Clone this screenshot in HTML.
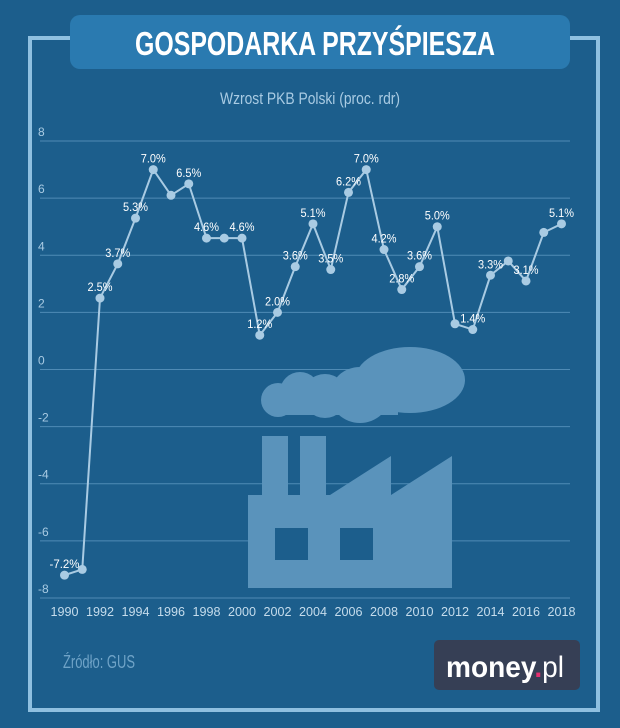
<!DOCTYPE html>
<html><head><meta charset="utf-8"><style>
body{margin:0;background:#1c5e8c;}
#wrap{position:relative;width:620px;height:728px;overflow:hidden;background:#1c5e8c;font-family:"Liberation Sans",sans-serif;}
svg text{font-family:"Liberation Sans",sans-serif;}
</style></head><body>
<div id="wrap">
<svg id="chart" width="620" height="728">
  <rect x="30" y="38" width="568" height="672" fill="none" stroke="#8fc0e0" stroke-width="4"/>
  <rect x="70" y="15" width="500" height="54" rx="10" fill="#2a7ab0"/>
  <text x="135" y="55" textLength="360" lengthAdjust="spacingAndGlyphs" font-size="33" font-weight="bold" fill="#fff">GOSPODARKA PRZYŚPIESZA</text>
  <text x="220" y="104" textLength="180" lengthAdjust="spacingAndGlyphs" font-size="17" fill="#a9cbe3">Wzrost PKB Polski (proc. rdr)</text>
  <g id="grid"></g>
  <g fill="#5a93bb">
    <polygon points="248,588 248,495 262,495 262,436 288,436 288,495 300,495 300,436 326,436 326,495 330,495 391,456 391,495 452,456 452,588"/>
    <rect x="275" y="528" width="33" height="32" fill="#1c5e8c"/>
    <rect x="340" y="528" width="33" height="32" fill="#1c5e8c"/>
    <circle cx="278" cy="400" r="17"/><circle cx="300" cy="392" r="20"/><circle cx="325" cy="396" r="22"/>
    <ellipse cx="360" cy="395" rx="30" ry="28"/><ellipse cx="410" cy="380" rx="55" ry="33"/>
    <rect x="278" y="385" width="120" height="30"/>
  </g>
  <g id="series"></g>
  <text x="63" y="668" textLength="72" lengthAdjust="spacingAndGlyphs" font-size="18" fill="#6fa3c7">Źródło: GUS</text>
  <g>
    <rect x="434" y="640" width="146" height="50" rx="5" fill="#363f55"/>
    <text x="446" y="677" textLength="118" lengthAdjust="spacingAndGlyphs" font-size="30" font-weight="bold" fill="#fff">money<tspan fill="#e4306f">.</tspan><tspan font-weight="normal">pl</tspan></text>
  </g>
</svg>
</div>
<script>
const years=[1990,1991,1992,1993,1994,1995,1996,1997,1998,1999,2000,2001,2002,2003,2004,2005,2006,2007,2008,2009,2010,2011,2012,2013,2014,2015,2016,2017,2018];
const growth=[-7.2,-7.0,2.5,3.7,5.3,7.0,6.1,6.5,4.6,4.6,4.6,1.2,2.0,3.6,5.1,3.5,6.2,7.0,4.2,2.8,3.6,5.0,1.6,1.4,3.3,3.8,3.1,4.8,5.1];
const labeledYears=[1990,1992,1993,1994,1995,1997,1998,2000,2001,2002,2003,2004,2005,2006,2007,2008,2009,2010,2011,2013,2014,2016,2018];
const yTicks=[8,6,4,2,0,-2,-4,-6,-8];
const xTicks=[1990,1992,1994,1996,1998,2000,2002,2004,2006,2008,2010,2012,2014,2016,2018];
const NS="http://www.w3.org/2000/svg";
function xs(y){return 64.5+(y-1990)*17.75;}
function ys(v){return 369.5-v*28.56;}
function mk(tag,attrs,parent){const e=document.createElementNS(NS,tag);for(const k in attrs)e.setAttribute(k,attrs[k]);parent.appendChild(e);return e;}
const grid=document.getElementById('grid');
yTicks.forEach(t=>{
  const l=mk('line',{x1:40,x2:570,y1:ys(t),y2:ys(t),stroke:'#4f8bb5','stroke-width':1},grid);
  
  
  const tx=mk('text',{x:38,y:ys(t)-5,'font-size':12,fill:'#a9cbe3'},grid);
  tx.textContent=t;
  
  
});
xTicks.forEach(t=>{
  const tx=mk('text',{x:xs(t),y:616,'font-size':13,fill:'#c5dcec','text-anchor':'middle',textLength:28,lengthAdjust:'spacingAndGlyphs'},grid);
  tx.textContent=t;
  
  
});
const s=document.getElementById('series');
const pts=years.map((y,i)=>xs(y)+','+ys(growth[i])).join(' ');
const pl=mk('polyline',{points:pts,fill:'none',stroke:'#a9cbe3','stroke-width':2},s);


years.forEach((y,i)=>{
  const c=mk('circle',{cx:xs(y),cy:ys(growth[i]),r:4.5,fill:'#a9cbe3'},s);
  
  
  if(labeledYears.includes(y)){
    const tx=mk('text',{x:xs(y),y:ys(growth[i])-7,'font-size':12,fill:'#fff','text-anchor':'middle',textLength:growth[i]<0?30:25,lengthAdjust:'spacingAndGlyphs'},s);
    tx.textContent=growth[i].toFixed(1)+'%';
    
    
  }
});
</script>
</body></html>
